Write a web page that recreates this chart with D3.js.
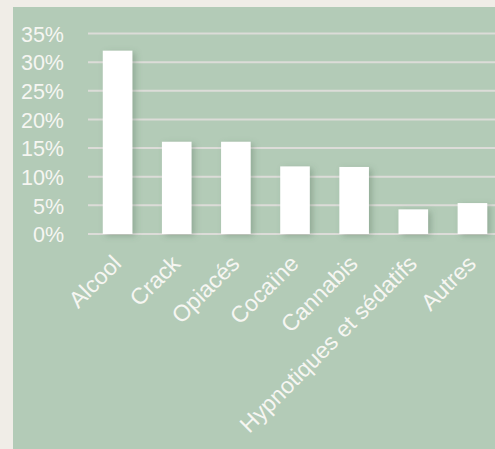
<!DOCTYPE html>
<html>
<head>
<meta charset="utf-8">
<script src="https://cdn.jsdelivr.net/npm/d3@7"></script>
<style>
  html, body { margin: 0; padding: 0; background: #f0ede7; overflow: hidden; }
  svg { display: block; }
</style>
</head>
<body>
<div id="chart"></div>
<script>
var size = { width: 495, height: 449 };
var panelColor = "#b3cbb7";
var gridColor = "#dcdcd8";
var textColor = "#f6f6f2";

// data
var categories = ["Alcool", "Crack", "Opiacés", "Cocaïne", "Cannabis", "Hypnotiques et sédatifs", "Autres"];
var values = [0.32, 0.161, 0.161, 0.118, 0.117, 0.043, 0.054];
var yTicks = [0, 0.05, 0.10, 0.15, 0.20, 0.25, 0.30, 0.35];

var plot = { left: 88, top: 33.5, bottom: 234, right: 502 };

var svg = d3.select("#chart").append("svg")
    .attr("width", size.width)
    .attr("height", size.height);

// drop shadow for bars
var filter = svg.append("defs").append("filter")
    .attr("id", "shadow")
    .attr("x", "-50%").attr("y", "-20%")
    .attr("width", "200%").attr("height", "150%");
filter.append("feDropShadow")
    .attr("dx", 3).attr("dy", 2)
    .attr("stdDeviation", 3)
    .attr("flood-color", "#4d6b55")
    .attr("flood-opacity", 0.35);

// green panel
svg.append("rect")
    .attr("x", 13).attr("y", 7)
    .attr("width", size.width).attr("height", size.height)
    .attr("fill", panelColor);

var x = d3.scaleBand()
    .domain(categories)
    .range([plot.left, plot.right])
    .paddingInner(0.5)
    .paddingOuter(0.25);

var y = d3.scaleLinear()
    .domain([0, 0.35])
    .range([plot.bottom, plot.top]);

// gridlines
svg.append("g").selectAll("line")
    .data(yTicks)
    .enter()
    .append("line")
    .attr("x1", plot.left)
    .attr("x2", size.width + 10)
    .attr("y1", d => y(d))
    .attr("y2", d => y(d))
    .attr("stroke", gridColor)
    .attr("stroke-width", 2);

// y labels
var yAxis = svg.append("g")
    .attr("transform", "translate(" + (plot.left - 24) + ",0)")
    .call(d3.axisLeft(y).tickValues(yTicks).tickFormat(d3.format(".0%")).tickSize(0).tickPadding(0));
yAxis.select(".domain").remove();
yAxis.selectAll("text")
    .attr("fill", textColor)
    .attr("font-family", "Liberation Sans, Arial, sans-serif")
    .attr("font-size", 21.5)
    .attr("dy", "0.36em");

// bars
svg.append("g").selectAll("rect")
    .data(values)
    .enter()
    .append("rect")
    .attr("x", (d, i) => x(categories[i]))
    .attr("y", d => y(d))
    .attr("width", x.bandwidth())
    .attr("height", d => y(0) - y(d))
    .attr("fill", "#ffffff")
    .attr("filter", "url(#shadow)");

// rotated category labels
svg.append("g").selectAll("text")
    .data(categories)
    .enter()
    .append("text")
    .attr("transform", d => "translate(" + (x(d) + x.bandwidth() / 2 + 5) + "," + (plot.bottom + 31) + ") rotate(-45)")
    .attr("text-anchor", "end")
    .attr("fill", textColor)
    .attr("font-family", "Liberation Sans, Arial, sans-serif")
    .attr("font-size", 23)
    .text(d => d);
</script>
</body>
</html>
